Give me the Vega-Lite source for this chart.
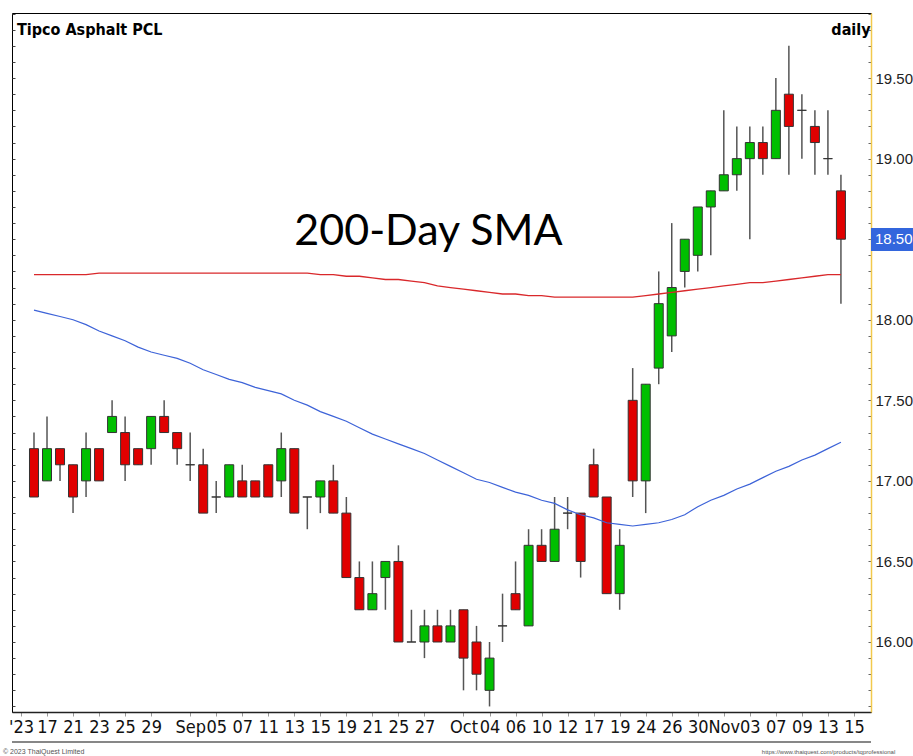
{
  "$schema": "https://vega.github.io/schema/vega-lite/v6.json",
  "width": 859,
  "height": 699,
  "autosize": {"type": "none"},
  "padding": {"left": 12, "top": 13, "right": 42, "bottom": 44},
  "background": "white",
  "config": {
    "view": {"stroke": "#000000", "strokeWidth": 1},
    "axis": {"grid": false}
  },
  "resolve": {"axis": {"y": "independent"}},
  "data": {
    "values": [
      {"date": "2023-08-16", "open": 17.2, "high": 17.3, "low": 16.9, "close": 16.9, "sma200": 18.28, "smaShort": 18.06},
      {"date": "2023-08-17", "open": 17.0, "high": 17.4, "low": 17.0, "close": 17.2, "sma200": 18.28, "smaShort": 18.04},
      {"date": "2023-08-18", "open": 17.2, "high": 17.2, "low": 17.0, "close": 17.1, "sma200": 18.28, "smaShort": 18.02},
      {"date": "2023-08-21", "open": 17.1, "high": 17.1, "low": 16.8, "close": 16.9, "sma200": 18.28, "smaShort": 18.0},
      {"date": "2023-08-22", "open": 17.0, "high": 17.3, "low": 16.9, "close": 17.2, "sma200": 18.28, "smaShort": 17.97},
      {"date": "2023-08-23", "open": 17.2, "high": 17.2, "low": 17.0, "close": 17.0, "sma200": 18.29, "smaShort": 17.93},
      {"date": "2023-08-24", "open": 17.3, "high": 17.5, "low": 17.3, "close": 17.4, "sma200": 18.29, "smaShort": 17.9},
      {"date": "2023-08-25", "open": 17.3, "high": 17.4, "low": 17.0, "close": 17.1, "sma200": 18.29, "smaShort": 17.87},
      {"date": "2023-08-28", "open": 17.2, "high": 17.2, "low": 17.1, "close": 17.1, "sma200": 18.29, "smaShort": 17.83},
      {"date": "2023-08-29", "open": 17.2, "high": 17.4, "low": 17.1, "close": 17.4, "sma200": 18.29, "smaShort": 17.8},
      {"date": "2023-08-30", "open": 17.4, "high": 17.5, "low": 17.3, "close": 17.3, "sma200": 18.29, "smaShort": 17.78},
      {"date": "2023-08-31", "open": 17.3, "high": 17.3, "low": 17.1, "close": 17.2, "sma200": 18.29, "smaShort": 17.76},
      {"date": "2023-09-01", "open": 17.1, "high": 17.3, "low": 17.0, "close": 17.1, "sma200": 18.29, "smaShort": 17.73},
      {"date": "2023-09-04", "open": 17.1, "high": 17.2, "low": 16.8, "close": 16.8, "sma200": 18.29, "smaShort": 17.69},
      {"date": "2023-09-05", "open": 16.9, "high": 17.0, "low": 16.8, "close": 16.9, "sma200": 18.29, "smaShort": 17.66},
      {"date": "2023-09-06", "open": 16.9, "high": 17.1, "low": 16.9, "close": 17.1, "sma200": 18.29, "smaShort": 17.63},
      {"date": "2023-09-07", "open": 17.0, "high": 17.1, "low": 16.9, "close": 16.9, "sma200": 18.29, "smaShort": 17.61},
      {"date": "2023-09-08", "open": 17.0, "high": 17.0, "low": 16.9, "close": 16.9, "sma200": 18.29, "smaShort": 17.58},
      {"date": "2023-09-11", "open": 17.1, "high": 17.1, "low": 16.9, "close": 16.9, "sma200": 18.29, "smaShort": 17.56},
      {"date": "2023-09-12", "open": 17.0, "high": 17.3, "low": 16.9, "close": 17.2, "sma200": 18.29, "smaShort": 17.54},
      {"date": "2023-09-13", "open": 17.2, "high": 17.2, "low": 16.8, "close": 16.8, "sma200": 18.29, "smaShort": 17.5},
      {"date": "2023-09-14", "open": 16.9, "high": 16.9, "low": 16.7, "close": 16.9, "sma200": 18.29, "smaShort": 17.47},
      {"date": "2023-09-15", "open": 16.9, "high": 17.0, "low": 16.8, "close": 17.0, "sma200": 18.28, "smaShort": 17.43},
      {"date": "2023-09-18", "open": 17.0, "high": 17.1, "low": 16.8, "close": 16.8, "sma200": 18.28, "smaShort": 17.4},
      {"date": "2023-09-19", "open": 16.8, "high": 16.9, "low": 16.4, "close": 16.4, "sma200": 18.27, "smaShort": 17.37},
      {"date": "2023-09-20", "open": 16.4, "high": 16.5, "low": 16.2, "close": 16.2, "sma200": 18.27, "smaShort": 17.33},
      {"date": "2023-09-21", "open": 16.2, "high": 16.5, "low": 16.2, "close": 16.3, "sma200": 18.26, "smaShort": 17.29},
      {"date": "2023-09-22", "open": 16.4, "high": 16.5, "low": 16.2, "close": 16.5, "sma200": 18.25, "smaShort": 17.26},
      {"date": "2023-09-25", "open": 16.5, "high": 16.6, "low": 16.0, "close": 16.0, "sma200": 18.25, "smaShort": 17.23},
      {"date": "2023-09-26", "open": 16.0, "high": 16.2, "low": 16.0, "close": 16.0, "sma200": 18.24, "smaShort": 17.2},
      {"date": "2023-09-27", "open": 16.0, "high": 16.2, "low": 15.9, "close": 16.1, "sma200": 18.23, "smaShort": 17.17},
      {"date": "2023-09-28", "open": 16.1, "high": 16.2, "low": 16.0, "close": 16.0, "sma200": 18.21, "smaShort": 17.13},
      {"date": "2023-09-29", "open": 16.0, "high": 16.2, "low": 16.0, "close": 16.1, "sma200": 18.2, "smaShort": 17.09},
      {"date": "2023-10-02", "open": 16.2, "high": 16.2, "low": 15.7, "close": 15.9, "sma200": 18.19, "smaShort": 17.05},
      {"date": "2023-10-03", "open": 16.0, "high": 16.1, "low": 15.7, "close": 15.8, "sma200": 18.18, "smaShort": 17.01},
      {"date": "2023-10-04", "open": 15.7, "high": 16.0, "low": 15.6, "close": 15.9, "sma200": 18.17, "smaShort": 16.99},
      {"date": "2023-10-05", "open": 16.1, "high": 16.3, "low": 16.0, "close": 16.1, "sma200": 18.16, "smaShort": 16.96},
      {"date": "2023-10-06", "open": 16.3, "high": 16.5, "low": 16.2, "close": 16.2, "sma200": 18.16, "smaShort": 16.93},
      {"date": "2023-10-09", "open": 16.1, "high": 16.7, "low": 16.1, "close": 16.6, "sma200": 18.15, "smaShort": 16.91},
      {"date": "2023-10-10", "open": 16.6, "high": 16.7, "low": 16.5, "close": 16.5, "sma200": 18.15, "smaShort": 16.88},
      {"date": "2023-10-11", "open": 16.5, "high": 16.9, "low": 16.5, "close": 16.7, "sma200": 18.14, "smaShort": 16.86},
      {"date": "2023-10-12", "open": 16.8, "high": 16.9, "low": 16.7, "close": 16.8, "sma200": 18.14, "smaShort": 16.82},
      {"date": "2023-10-16", "open": 16.8, "high": 16.8, "low": 16.4, "close": 16.5, "sma200": 18.14, "smaShort": 16.79},
      {"date": "2023-10-17", "open": 17.1, "high": 17.2, "low": 16.9, "close": 16.9, "sma200": 18.14, "smaShort": 16.77},
      {"date": "2023-10-18", "open": 16.9, "high": 16.9, "low": 16.3, "close": 16.3, "sma200": 18.14, "smaShort": 16.74},
      {"date": "2023-10-19", "open": 16.3, "high": 16.7, "low": 16.2, "close": 16.6, "sma200": 18.14, "smaShort": 16.73},
      {"date": "2023-10-20", "open": 17.5, "high": 17.7, "low": 16.9, "close": 17.0, "sma200": 18.14, "smaShort": 16.72},
      {"date": "2023-10-24", "open": 17.0, "high": 17.6, "low": 16.8, "close": 17.6, "sma200": 18.15, "smaShort": 16.73},
      {"date": "2023-10-25", "open": 17.7, "high": 18.3, "low": 17.6, "close": 18.1, "sma200": 18.16, "smaShort": 16.74},
      {"date": "2023-10-26", "open": 17.9, "high": 18.6, "low": 17.8, "close": 18.2, "sma200": 18.17, "smaShort": 16.76},
      {"date": "2023-10-27", "open": 18.3, "high": 18.5, "low": 18.2, "close": 18.5, "sma200": 18.18, "smaShort": 16.79},
      {"date": "2023-10-30", "open": 18.4, "high": 18.7, "low": 18.3, "close": 18.7, "sma200": 18.19, "smaShort": 16.84},
      {"date": "2023-10-31", "open": 18.7, "high": 18.8, "low": 18.4, "close": 18.8, "sma200": 18.2, "smaShort": 16.88},
      {"date": "2023-11-01", "open": 18.8, "high": 19.3, "low": 18.8, "close": 18.9, "sma200": 18.21, "smaShort": 16.91},
      {"date": "2023-11-02", "open": 18.9, "high": 19.2, "low": 18.8, "close": 19.0, "sma200": 18.22, "smaShort": 16.95},
      {"date": "2023-11-03", "open": 19.0, "high": 19.2, "low": 18.5, "close": 19.1, "sma200": 18.23, "smaShort": 16.98},
      {"date": "2023-11-06", "open": 19.1, "high": 19.2, "low": 18.9, "close": 19.0, "sma200": 18.23, "smaShort": 17.02},
      {"date": "2023-11-07", "open": 19.0, "high": 19.5, "low": 19.0, "close": 19.3, "sma200": 18.24, "smaShort": 17.06},
      {"date": "2023-11-08", "open": 19.4, "high": 19.7, "low": 18.9, "close": 19.2, "sma200": 18.25, "smaShort": 17.09},
      {"date": "2023-11-09", "open": 19.3, "high": 19.4, "low": 19.0, "close": 19.3, "sma200": 18.26, "smaShort": 17.13},
      {"date": "2023-11-10", "open": 19.2, "high": 19.3, "low": 18.9, "close": 19.1, "sma200": 18.27, "smaShort": 17.16},
      {"date": "2023-11-13", "open": 19.0, "high": 19.3, "low": 18.9, "close": 19.0, "sma200": 18.28, "smaShort": 17.2},
      {"date": "2023-11-14", "open": 18.8, "high": 18.9, "low": 18.1, "close": 18.5, "sma200": 18.28, "smaShort": 17.24}
    ]
  },
  "encoding": {
    "x": {
      "field": "date",
      "type": "ordinal",
      "scale": {
        "type": "point",
        "padding": 1.118,
        "align": 0.345,
        "domain": ["2023-08-15", "2023-08-16", "2023-08-17", "2023-08-18", "2023-08-21", "2023-08-22", "2023-08-23", "2023-08-24", "2023-08-25", "2023-08-28", "2023-08-29", "2023-08-30", "2023-08-31", "2023-09-01", "2023-09-04", "2023-09-05", "2023-09-06", "2023-09-07", "2023-09-08", "2023-09-11", "2023-09-12", "2023-09-13", "2023-09-14", "2023-09-15", "2023-09-18", "2023-09-19", "2023-09-20", "2023-09-21", "2023-09-22", "2023-09-25", "2023-09-26", "2023-09-27", "2023-09-28", "2023-09-29", "2023-10-02", "2023-10-03", "2023-10-04", "2023-10-05", "2023-10-06", "2023-10-09", "2023-10-10", "2023-10-11", "2023-10-12", "2023-10-16", "2023-10-17", "2023-10-18", "2023-10-19", "2023-10-20", "2023-10-24", "2023-10-25", "2023-10-26", "2023-10-27", "2023-10-30", "2023-10-31", "2023-11-01", "2023-11-02", "2023-11-03", "2023-11-06", "2023-11-07", "2023-11-08", "2023-11-09", "2023-11-10", "2023-11-13", "2023-11-14", "2023-11-15"]
      },
      "axis": {
        "orient": "bottom",
        "title": null,
        "values": ["2023-08-15", "2023-08-17", "2023-08-21", "2023-08-23", "2023-08-25", "2023-08-29", "2023-09-01", "2023-09-05", "2023-09-07", "2023-09-11", "2023-09-13", "2023-09-15", "2023-09-19", "2023-09-21", "2023-09-25", "2023-09-27", "2023-10-02", "2023-10-04", "2023-10-06", "2023-10-10", "2023-10-12", "2023-10-17", "2023-10-19", "2023-10-24", "2023-10-26", "2023-10-30", "2023-11-01", "2023-11-03", "2023-11-07", "2023-11-09", "2023-11-13", "2023-11-15"],
        "labelExpr": "datum.value == '2023-08-15' ? \"'23\" : datum.value == '2023-09-01' ? 'Sep' : datum.value == '2023-10-02' ? 'Oct' : datum.value == '2023-11-01' ? 'Nov' : slice(datum.value, 8)",
        "labelAngle": 0,
        "labelOverlap": false,
        "labelBound": false,
        "labelFlush": false,
        "labelFont": "Liberation Sans Narrow, DejaVu Sans Condensed, sans-serif",
        "labelFontSize": 18,
        "labelColor": "#111111",
        "labelPadding": 2,
        "tickSize": 4,
        "tickColor": "#999999",
        "domainColor": "#222222",
        "domainWidth": 1.5
      }
    }
  },
  "layer": [
    {
      "mark": {"type": "rule", "color": "#555555", "strokeWidth": 1.5},
      "encoding": {
        "y": {
          "field": "low",
          "type": "quantitative",
          "scale": {"domain": [15.5655, 19.904], "nice": false, "zero": false},
          "axis": {
            "orient": "right",
            "title": null,
            "values": [15.6, 15.7, 15.8, 15.9, 16.0, 16.1, 16.2, 16.3, 16.4, 16.5, 16.6, 16.7, 16.8, 16.9, 17.0, 17.1, 17.2, 17.3, 17.4, 17.5, 17.6, 17.7, 17.8, 17.9, 18.0, 18.1, 18.2, 18.3, 18.4, 18.5, 18.6, 18.7, 18.8, 18.9, 19.0, 19.1, 19.2, 19.3, 19.4, 19.5, 19.6, 19.7, 19.8, 19.9],
            "labelExpr": "(round(datum.value * 10) % 5 == 0) ? format(datum.value, '.2f') : ''",
            "labelFont": "Liberation Sans, Arial, sans-serif",
            "labelFontSize": 15,
            "labelColor": "#222222",
            "labelAlign": "left",
            "labelBaseline": "middle",
            "labelPadding": 7,
            "labelOverlap": false,
            "labelBound": false,
            "labelFlush": false,
            "tickSize": -3,
            "tickColor": "#666666",
            "domainColor": "#f2c94c",
            "domainWidth": 1.5
          }
        },
        "y2": {"field": "high"}
      }
    },
    {
      "mark": {"type": "bar", "width": 9, "stroke": "#333333", "strokeWidth": 1},
      "encoding": {
        "y": {
          "field": "open",
          "type": "quantitative",
          "scale": {"domain": [15.5655, 19.904], "nice": false, "zero": false},
          "axis": {
            "orient": "left",
            "title": null,
            "labels": false,
            "domain": false,
            "values": [15.6, 15.7, 15.8, 15.9, 16.0, 16.1, 16.2, 16.3, 16.4, 16.5, 16.6, 16.7, 16.8, 16.9, 17.0, 17.1, 17.2, 17.3, 17.4, 17.5, 17.6, 17.7, 17.8, 17.9, 18.0, 18.1, 18.2, 18.3, 18.4, 18.5, 18.6, 18.7, 18.8, 18.9, 19.0, 19.1, 19.2, 19.3, 19.4, 19.5, 19.6, 19.7, 19.8, 19.9],
            "tickSize": -3,
            "tickColor": "#444444"
          }
        },
        "y2": {"field": "close"},
        "fill": {
          "condition": {"test": "datum.close >= datum.open", "value": "#00bf00"},
          "value": "#e00000"
        }
      }
    },
    {
      "mark": {"type": "line", "color": "#d9282b", "strokeWidth": 1.3},
      "encoding": {
        "y": {"field": "sma200", "type": "quantitative", "scale": {"domain": [15.5655, 19.904], "nice": false, "zero": false}, "axis": null}
      }
    },
    {
      "mark": {"type": "line", "color": "#3d63d8", "strokeWidth": 1.2},
      "encoding": {
        "y": {"field": "smaShort", "type": "quantitative", "scale": {"domain": [15.5655, 19.904], "nice": false, "zero": false}, "axis": null}
      }
    },
    {
      "mark": {"type": "rule", "color": "#888888", "strokeWidth": 1, "clip": false},
      "encoding": {
        "x": null,
        "y": {"datum": 15.379, "type": "quantitative", "scale": {"domain": [15.5655, 19.904], "nice": false, "zero": false}, "axis": null}
      }
    },
    {
      "data": {"values": [{"label": "200-Day SMA"}]},
      "mark": {"type": "text", "font": "Lato, Open Sans, sans-serif", "fontSize": 43, "align": "center", "baseline": "middle", "color": "#000000", "dx": 4},
      "encoding": {
        "x": {"datum": "2023-09-27"},
        "y": {"datum": 18.545, "type": "quantitative", "scale": {"domain": [15.5655, 19.904], "nice": false, "zero": false}, "axis": null},
        "text": {"field": "label"}
      }
    },
    {
      "data": {"values": [{"label": "Tipco Asphalt PCL"}]},
      "mark": {"type": "text", "font": "Liberation Sans Narrow, DejaVu Sans Condensed, sans-serif", "fontWeight": "bold", "fontSize": 16, "align": "left", "baseline": "middle", "color": "#000000", "dx": -4},
      "encoding": {
        "x": {"datum": "2023-08-15"},
        "y": {"datum": 19.8, "type": "quantitative", "scale": {"domain": [15.5655, 19.904], "nice": false, "zero": false}, "axis": null},
        "text": {"field": "label"}
      }
    },
    {
      "data": {"values": [{"label": "daily"}]},
      "mark": {"type": "text", "font": "Liberation Sans Narrow, DejaVu Sans Condensed, sans-serif", "fontWeight": "bold", "fontSize": 16, "align": "center", "baseline": "middle", "color": "#000000", "dx": -3},
      "encoding": {
        "x": {"datum": "2023-11-15"},
        "y": {"datum": 19.8, "type": "quantitative", "scale": {"domain": [15.5655, 19.904], "nice": false, "zero": false}, "axis": null},
        "text": {"field": "label"}
      }
    },
    {
      "data": {"values": [{"label": "© 2023 ThaiQuest Limited"}]},
      "mark": {"type": "text", "font": "Liberation Sans, Arial, sans-serif", "fontSize": 7, "align": "left", "baseline": "middle", "color": "#555555", "dx": -18},
      "encoding": {
        "x": {"datum": "2023-08-15"},
        "y": {"datum": 15.317, "type": "quantitative", "scale": {"domain": [15.5655, 19.904], "nice": false, "zero": false}, "axis": null},
        "text": {"field": "label"}
      }
    },
    {
      "data": {"values": [{"label": "https://www.thaiquest.com/products/tqprofessional"}]},
      "mark": {"type": "text", "font": "Liberation Sans, Arial, sans-serif", "fontSize": 6, "align": "left", "baseline": "middle", "color": "#555555", "dx": -1},
      "encoding": {
        "x": {"datum": "2023-11-06"},
        "y": {"datum": 15.317, "type": "quantitative", "scale": {"domain": [15.5655, 19.904], "nice": false, "zero": false}, "axis": null},
        "text": {"field": "label"}
      }
    },
    {
      "data": {"values": [{"last": 18.5}]},
      "mark": {"type": "rect", "color": "#3366dd", "x2Offset": 42, "clip": false},
      "encoding": {
        "x": {"value": "width"},
        "x2": {"value": "width"},
        "y": {"datum": 18.57, "type": "quantitative", "scale": {"domain": [15.5655, 19.904], "nice": false, "zero": false}, "axis": null},
        "y2": {"datum": 18.427}
      }
    },
    {
      "data": {"values": [{"last": 18.5}]},
      "mark": {"type": "text", "font": "Liberation Sans, Arial, sans-serif", "fontSize": 15, "align": "left", "baseline": "middle", "color": "#ffffff", "dx": 4},
      "encoding": {
        "x": {"value": "width"},
        "y": {"field": "last", "type": "quantitative", "scale": {"domain": [15.5655, 19.904], "nice": false, "zero": false}, "axis": null},
        "text": {"field": "last", "type": "quantitative", "format": ".2f"}
      }
    }
  ]
}
